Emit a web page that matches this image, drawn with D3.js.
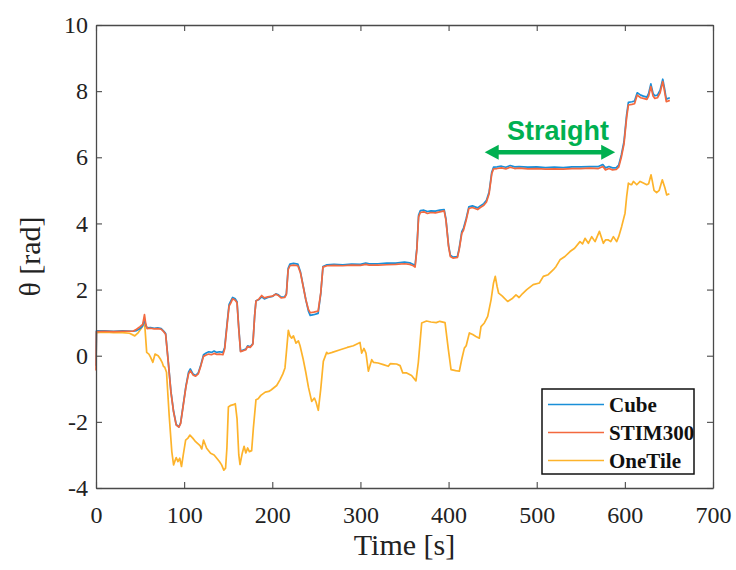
<!DOCTYPE html>
<html>
<head>
<meta charset="utf-8">
<script src="https://cdn.jsdelivr.net/npm/d3@7"></script>
<style>
  html, body { margin: 0; padding: 0; background: #ffffff; }
  svg { display: block; }
</style>
</head>
<body>
<svg id="chart" width="736" height="570"></svg>
<script>
// ---------- data ----------
const xTicks = [0, 100, 200, 300, 400, 500, 600, 700];
const yTicks = [-4, -2, 0, 2, 4, 6, 8, 10];
const seriesNames = ["Cube", "STIM300", "OneTile"];
const seriesColors = ["#1a8fd8", "#f3693f", "#fdb32b"];

const stimData = [[0,-0.45],[0.5,0.73],[10,0.74],[20,0.73],[30,0.74],[42,0.74],[46,0.8],[50,0.88],[53,0.95],[55,1.24],[56.5,0.95],[58,0.82],[62,0.83],[66,0.81],[70,0.82],[74,0.8],[77,0.72],[79,0.65],[82,-0.2],[85,-1.1],[88,-1.7],[91,-2.1],[94,-2.16],[96,-2.05],[99,-1.5],[102,-0.95],[105,-0.55],[107,-0.45],[110,-0.58],[113,-0.62],[116,-0.55],[119,-0.3],[122,-0.02],[125,0.02],[128,0.05],[131,0.03],[134,0.07],[137,0.04],[140,0.05],[144,0.03],[146,0.2],[149,1.0],[151,1.5],[153,1.6],[155,1.72],[158,1.68],[160,1.6],[162,0.8],[164,0.12],[167,0.15],[170,0.18],[172,0.28],[175,0.25],[178,0.35],[180,1.2],[181.5,1.65],[185,1.72],[188,1.82],[191,1.75],[195,1.78],[200,1.8],[204,1.86],[207,1.82],[210,1.75],[214,1.76],[216,1.85],[218,2.6],[220,2.72],[224,2.74],[229,2.72],[232,2.5],[235,2.1],[238,1.7],[241,1.4],[243,1.3],[247,1.32],[252,1.35],[255,1.9],[257.5,2.68],[262,2.72],[270,2.73],[280,2.72],[290,2.74],[300,2.73],[306,2.76],[310,2.74],[320,2.74],[330,2.75],[340,2.76],[350,2.78],[356,2.76],[360,2.72],[362,2.68],[364,3.2],[366,4.2],[368,4.33],[372,4.35],[376,4.3],[380,4.33],[385,4.32],[390,4.35],[395,4.38],[397,4.1],[400,3.3],[402,3.0],[405,2.95],[410,2.97],[412,3.2],[415,3.7],[417,3.8],[420,4.1],[423,4.45],[427,4.48],[430,4.45],[433,4.42],[436,4.48],[440,4.55],[443,4.65],[446,4.9],[449,5.5],[451,5.65],[455,5.66],[460,5.68],[465,5.65],[470,5.7],[475,5.66],[480,5.67],[490,5.65],[500,5.66],[510,5.64],[520,5.65],[530,5.64],[540,5.66],[550,5.66],[560,5.67],[570,5.66],[575,5.72],[578,5.62],[582,5.66],[586,5.62],[590,5.63],[593,5.7],[596,6.0],[599,6.4],[602,7.2],[604,7.58],[608,7.6],[611,7.62],[614,7.88],[618,7.8],[621,7.78],[625,7.75],[627,7.85],[629.5,8.14],[632,7.85],[634,7.78],[637,7.8],[640,7.95],[643,8.29],[645,8.0],[647,7.68],[651,7.72]];

const cubeData = [[0,-0.3],[0.5,0.75],[10,0.75],[20,0.74],[30,0.75],[42,0.74],[46,0.76],[50,0.82],[53,0.9],[55,1.1],[56.5,0.92],[58,0.84],[62,0.85],[66,0.83],[70,0.84],[74,0.82],[77,0.74],[79,0.67],[82,-0.18],[85,-1.08],[88,-1.68],[91,-2.08],[94,-2.15],[96,-2.03],[99,-1.48],[102,-0.92],[105,-0.5],[107,-0.4],[110,-0.55],[113,-0.6],[116,-0.52],[119,-0.27],[122,0.03],[125,0.08],[128,0.12],[131,0.1],[134,0.14],[137,0.1],[140,0.12],[144,0.1],[146,0.25],[149,1.05],[151,1.55],[153,1.66],[155,1.76],[158,1.72],[160,1.63],[162,0.83],[164,0.14],[167,0.17],[170,0.2],[172,0.3],[175,0.27],[178,0.37],[180,1.22],[181.5,1.66],[185,1.7],[188,1.78],[191,1.72],[195,1.76],[200,1.79],[204,1.87],[207,1.84],[210,1.77],[214,1.78],[216,1.88],[218,2.64],[220,2.77],[224,2.79],[229,2.77],[232,2.53],[235,2.12],[238,1.7],[241,1.35],[243,1.22],[247,1.24],[252,1.28],[255,1.88],[257.5,2.7],[262,2.75],[270,2.76],[280,2.75],[290,2.77],[300,2.76],[306,2.8],[310,2.78],[320,2.78],[330,2.8],[340,2.8],[350,2.83],[356,2.81],[360,2.76],[362,2.72],[364,3.25],[366,4.25],[368,4.39],[372,4.4],[376,4.36],[380,4.38],[385,4.37],[390,4.4],[395,4.42],[397,4.14],[400,3.33],[402,3.04],[405,2.98],[410,3.0],[412,3.24],[415,3.75],[417,3.86],[420,4.15],[423,4.5],[427,4.53],[430,4.5],[433,4.47],[436,4.53],[440,4.6],[443,4.7],[446,4.95],[449,5.55],[451,5.7],[455,5.71],[460,5.73],[465,5.7],[470,5.75],[475,5.71],[480,5.72],[490,5.7],[500,5.71],[510,5.69],[520,5.7],[530,5.69],[540,5.71],[550,5.71],[560,5.72],[570,5.72],[575,5.78],[578,5.68],[582,5.72],[586,5.68],[590,5.68],[593,5.76],[596,6.07],[599,6.47],[602,7.28],[604,7.66],[608,7.68],[611,7.7],[614,7.95],[618,7.88],[621,7.85],[625,7.82],[627,7.93],[629.5,8.22],[632,7.93],[634,7.86],[637,7.88],[640,8.03],[643,8.36],[645,8.08],[647,7.76],[651,7.8]];

const oneTileData = [[0,0.7],[10,0.71],[20,0.7],[30,0.7],[38,0.68],[44,0.6],[48,0.7],[52,0.85],[55,1.05],[57.5,0.1],[60,0.05],[62,-0.05],[64.5,-0.2],[67,0.05],[70.5,0.0],[73,-0.1],[75,-0.2],[76.5,-0.32],[78,-0.35],[80,-0.5],[83,-1.8],[86,-2.9],[88,-3.3],[90,-3.15],[91,-3.08],[93,-3.2],[95,-3.1],[97,-3.35],[99,-3.0],[101.7,-2.55],[104,-2.5],[106.6,-2.4],[110,-2.5],[113,-2.6],[118,-2.72],[120,-2.82],[122,-2.55],[125.5,-2.8],[130,-2.95],[134,-3.0],[137,-3.1],[140,-3.2],[142.5,-3.3],[145,-3.46],[147,-3.4],[148.5,-2.8],[150.2,-1.55],[153,-1.5],[156,-1.48],[158,-1.45],[160,-1.9],[162,-3.0],[163.4,-3.29],[166,-2.94],[168,-2.74],[170,-2.94],[172,-2.79],[174,-2.9],[176.6,-2.87],[178.5,-2.2],[181.5,-1.33],[184,-1.3],[187,-1.2],[192,-1.1],[196,-1.08],[199,-1.03],[205,-0.9],[208.7,-0.73],[212,-0.55],[214.4,-0.37],[216,0.1],[218.2,0.77],[220,0.6],[222,0.53],[224,0.6],[226.9,0.38],[229.6,0.45],[231.5,0.3],[235,-0.1],[238,-0.5],[241,-0.95],[244.7,-1.38],[247.8,-1.28],[249.6,-1.4],[252.2,-1.65],[255,-1.0],[257.9,-0.17],[261.7,0.1],[263,0.06],[268,0.1],[277,0.18],[285,0.25],[292,0.3],[299.5,0.4],[301.4,0.08],[304,0.22],[306.3,0.08],[309,-0.47],[312.8,-0.12],[314.7,-0.2],[320,-0.22],[326,-0.27],[331.6,-0.32],[334,-0.24],[341,-0.25],[345,-0.3],[348,-0.52],[352.5,-0.52],[358,-0.6],[363,-0.76],[365.7,-0.2],[369.5,0.99],[375,1.05],[380,1.02],[386,1.0],[390,1.04],[396,1.0],[399.7,0.2],[402.8,-0.42],[408,-0.45],[412.2,-0.47],[415,-0.1],[417.9,0.23],[420,0.3],[423.6,0.69],[427.4,0.64],[431,0.58],[434.9,0.53],[436.8,0.88],[440.6,0.99],[444.4,1.19],[448.2,1.69],[451,2.2],[453,2.4],[455,2.1],[456.8,1.89],[461,1.8],[467,1.64],[472.7,1.74],[476.5,1.84],[480,1.76],[484,1.88],[488.7,2.0],[496,2.15],[503,2.2],[507.5,2.4],[513,2.45],[518.9,2.6],[522,2.7],[526.4,2.9],[532,3.0],[537.8,3.15],[543,3.25],[549.1,3.45],[552,3.38],[554.8,3.55],[558.6,3.4],[562.4,3.6],[566.2,3.45],[571.1,3.76],[575.6,3.4],[578,3.5],[581.3,3.5],[584,3.45],[587,3.6],[590.7,3.45],[593,3.6],[596.4,3.91],[600.2,4.31],[602,4.8],[604,5.22],[606,5.18],[607.8,5.17],[609.7,5.27],[613.5,5.17],[617.3,5.27],[621,5.22],[624.8,5.17],[627,5.2],[629.7,5.47],[631,5.3],[633.1,5.0],[636,4.93],[639,5.0],[642.5,5.32],[645.5,5.07],[647.5,4.86],[650.5,4.9]];

// annotation: arrow span (time) and level
const straightLabel = "Straight";
const straightSpan = [441, 589];
const straightLevel = 6.15;

// ---------- layout ----------
const svg = d3.select("#chart");
const m = { left: 96, right: 713, top: 25, bottom: 488 };
const x = d3.scaleLinear().domain([0, 700]).range([m.left, m.right]);
const y = d3.scaleLinear().domain([-4, 10]).range([m.bottom, m.top]);
const axisColor = "#4a4a4a";
const serif = "'Liberation Serif', 'Times New Roman', serif";
const plainFmt = d => String(d);

// lines
const line = d3.line().x(d => x(d[0])).y(d => y(d[1]));
const seriesData = [cubeData, stimData, oneTileData];
const drawOrder = [2, 0, 1];
drawOrder.forEach(i => {
  svg.append("path")
    .datum(seriesData[i])
    .attr("fill", "none")
    .attr("stroke", seriesColors[i])
    .attr("stroke-width", 1.7)
    .attr("stroke-linejoin", "round")
    .attr("d", line);
});

// axes
function styleAxis(g, showText) {
  g.selectAll("path.domain").attr("stroke", axisColor).attr("stroke-width", 1.3);
  g.selectAll(".tick line").attr("stroke", axisColor).attr("stroke-width", 1.1);
  g.selectAll(".tick text")
    .attr("fill", "#222")
    .style("font-family", serif)
    .style("font-size", "24px");
  if (!showText) g.selectAll(".tick text").remove();
}
svg.append("g").attr("transform", `translate(0,${m.bottom})`)
  .call(d3.axisBottom(x).tickValues(xTicks).tickFormat(plainFmt).tickSizeInner(-6).tickSizeOuter(0).tickPadding(18))
  .call(g => styleAxis(g, true));
svg.append("g").attr("transform", `translate(0,${m.top})`)
  .call(d3.axisTop(x).tickValues(xTicks).tickSizeInner(-6).tickSizeOuter(0))
  .call(g => styleAxis(g, false));
svg.append("g").attr("transform", `translate(${m.left},0)`)
  .call(d3.axisLeft(y).tickValues(yTicks).tickFormat(plainFmt).tickSizeInner(-6).tickSizeOuter(0).tickPadding(8))
  .call(g => styleAxis(g, true));
svg.append("g").attr("transform", `translate(${m.right},0)`)
  .call(d3.axisRight(y).tickValues(yTicks).tickSizeInner(-6).tickSizeOuter(0))
  .call(g => styleAxis(g, false));

// axis titles
svg.append("text")
  .attr("x", (m.left + m.right) / 2).attr("y", 555)
  .attr("text-anchor", "middle")
  .style("font-family", serif).style("font-size", "30px").attr("fill", "#222")
  .text("Time [s]");
svg.append("text")
  .attr("transform", `translate(40,${(m.top + m.bottom) / 2}) rotate(-90)`)
  .attr("text-anchor", "middle")
  .style("font-family", serif).style("font-size", "30px").attr("fill", "#222")
  .text("θ [rad]");

// annotation
const green = "#00b050";
const ax0 = x(straightSpan[0]), ax1 = x(straightSpan[1]), ay = y(straightLevel);
const head = 14, hh = 7.5;
svg.append("line")
  .attr("x1", ax0 + head - 1).attr("x2", ax1 - head + 1)
  .attr("y1", ay).attr("y2", ay)
  .attr("stroke", green).attr("stroke-width", 4.5);
svg.append("path")
  .attr("d", `M${ax0},${ay} L${ax0 + head},${ay - hh} L${ax0 + head},${ay + hh} Z`)
  .attr("fill", green);
svg.append("path")
  .attr("d", `M${ax1},${ay} L${ax1 - head},${ay - hh} L${ax1 - head},${ay + hh} Z`)
  .attr("fill", green);
svg.append("text")
  .attr("x", 558).attr("y", 140)
  .attr("text-anchor", "middle")
  .style("font-family", "'Liberation Sans', Arial, sans-serif")
  .style("font-size", "27px").style("font-weight", "bold")
  .attr("fill", green)
  .text(straightLabel);

// legend
const lg = svg.append("g");
lg.append("rect")
  .attr("x", 542).attr("y", 389).attr("width", 152).attr("height", 85)
  .attr("fill", "#fff").attr("stroke", "#111").attr("stroke-width", 1.5);
seriesNames.forEach((name, i) => {
  const ly = 404.5 + i * 28;
  lg.append("line")
    .attr("x1", 548).attr("x2", 604).attr("y1", ly).attr("y2", ly)
    .attr("stroke", seriesColors[i]).attr("stroke-width", 1.6);
  lg.append("text")
    .attr("x", 609).attr("y", ly + 7)
    .style("font-family", serif).style("font-size", "21px").style("font-weight", "bold")
    .attr("fill", "#111")
    .text(name);
});
</script>
</body>
</html>
